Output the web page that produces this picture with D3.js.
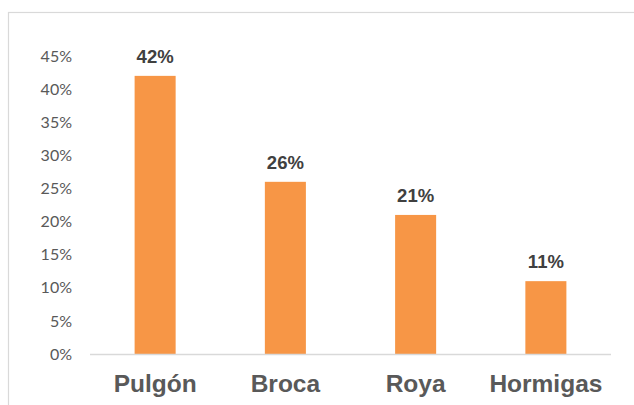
<!DOCTYPE html>
<html>
<head>
<meta charset="utf-8">
<script src="https://cdn.jsdelivr.net/npm/d3@7"></script>
<style>
  html, body { margin: 0; padding: 0; background: #fff; }
  svg { display: block; }
</style>
</head>
<body>
<svg id="chart" width="634" height="405"></svg>
<script>
// Share of reported pests
const categories = ["Pulgón", "Broca", "Roya", "Hormigas"];
const values = [0.42, 0.26, 0.21, 0.11];
const tickValues = [0, 0.05, 0.10, 0.15, 0.20, 0.25, 0.30, 0.35, 0.40, 0.45];

const svg = d3.select("#chart");

// Chart area frame (open to the right and bottom)
svg.append("rect")
  .attr("x", 8.5).attr("y", 12.5)
  .attr("width", 700).attr("height", 500)
  .attr("fill", "#fff")
  .attr("stroke", "#d9d9d9")
  .attr("stroke-width", 1.2);

const x = d3.scaleBand()
  .domain(categories)
  .range([90, 611])
  .paddingInner(0.685)
  .paddingOuter(0.3425);

const y = d3.scaleLinear()
  .domain([0, 0.45])
  .range([354, 56]);

// Y axis labels
const yAxis = d3.axisLeft(y)
  .tickValues(tickValues)
  .tickFormat(d3.format(".0%"))
  .tickSize(0)
  .tickPadding(0);

const gy = svg.append("g")
  .attr("transform", "translate(72,0)")
  .call(yAxis);
gy.select(".domain").remove();
gy.selectAll("text")
  .attr("font-family", "Lato, 'Open Sans', sans-serif")
  .attr("font-size", "16px")
  .attr("fill", "#595959");

// Bars
svg.append("g")
  .selectAll("rect")
  .data(values)
  .join("rect")
  .attr("x", (d, i) => x(categories[i]))
  .attr("y", d => y(d))
  .attr("width", x.bandwidth())
  .attr("height", d => y(0) - y(d))
  .attr("fill", "#f79646");

// Baseline
svg.append("line")
  .attr("x1", 90).attr("x2", 611)
  .attr("y1", y(0) + 0.5).attr("y2", y(0) + 0.5)
  .attr("stroke", "#d9d9d9")
  .attr("stroke-width", 1.5);

// Value labels
svg.append("g")
  .selectAll("text")
  .data(values)
  .join("text")
  .attr("x", (d, i) => x(categories[i]) + x.bandwidth() / 2)
  .attr("y", d => y(d) - 13)
  .attr("text-anchor", "middle")
  .attr("font-family", "'Liberation Sans', Arial, sans-serif")
  .attr("font-weight", "bold")
  .attr("font-size", "18.5px")
  .attr("fill", "#404040")
  .text(d => d3.format(".0%")(d));

// Category labels
const xAxis = d3.axisBottom(x).tickSize(0).tickPadding(0);
const gx = svg.append("g")
  .attr("transform", "translate(0,392)")
  .call(xAxis);
gx.select(".domain").remove();
gx.selectAll("text")
  .attr("dy", 0)
  .attr("font-family", "'Liberation Sans', Arial, sans-serif")
  .attr("font-weight", "bold")
  .attr("font-size", "24.5px")
  .attr("fill", "#595959");
</script>
</body>
</html>
